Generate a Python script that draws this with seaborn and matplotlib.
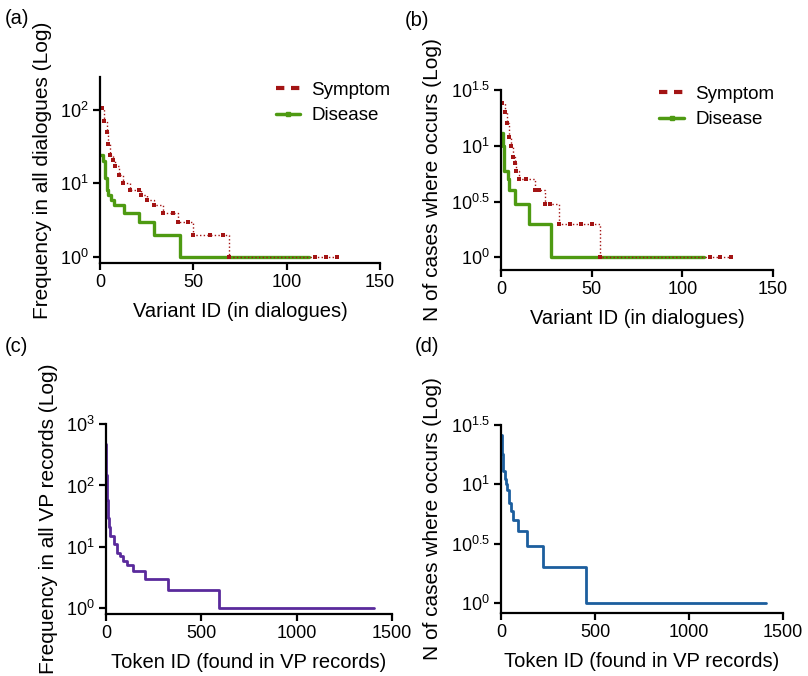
import numpy as np
import pandas as pd
import matplotlib.pyplot as plt
from matplotlib.lines import Line2D
import seaborn as sns

# (a) frequency in all dialogues
a_sym_x = [1, 2, 3.5, 4.5, 5.5, 7, 8, 10, 12.5, 16, 21, 22, 25, 29, 34, 39, 42, 47, 50, 59, 66, 69, 115, 121, 127]
a_sym_y = [105, 70, 50, 34, 24, 21, 17, 13, 10, 8, 8, 7, 6, 5, 4, 4, 3, 3, 2, 2, 2, 1, 1, 1, 1]
a_dis_x = [0, 1.5, 2.5, 3.5, 4.5, 6, 7.5, 13, 21, 29, 43, 112]
a_dis_y = [24, 20, 12, 8, 7, 6, 5, 4, 3, 2, 1, 1]

# (b) number of cases where it occurs
b_sym_x = [0.5, 2, 3.2, 4.3, 5.6, 6.5, 7.5, 8.5, 10, 14, 19, 21, 24, 27, 32, 38, 44, 50, 54.5, 115, 121, 127]
b_sym_y = [24, 20, 16, 12, 10, 8, 7, 6, 5, 5, 4, 4, 3, 3, 2, 2, 2, 2, 1, 1, 1, 1]
b_dis_x = [0, 1, 1.8, 3.7, 4.6, 7.8, 15.2, 27.8, 112]
b_dis_y = [13, 10, 6, 5, 4, 3, 2, 1, 1]

# (c) token frequency in VP records
c_x = [0, 1, 3, 5, 9, 14, 23, 40, 58, 75, 90, 110, 142, 207, 324, 593, 1408]
c_y = [480, 150, 80, 58, 30, 21, 15, 11, 8, 7, 6, 5, 4, 3, 2, 1, 1]

# (d) token: number of cases where it occurs
d_x = [0, 4, 12, 21, 28, 34, 40, 45, 55, 65, 92, 136, 224, 454, 1408]
d_y = [26, 18, 13, 11, 10, 9, 8, 7, 6, 5, 4, 3, 2, 1, 1]

RED = "#A31414"
GREEN = "#4E9A12"
PURPLE = "#5A2A9C"
BLUE = "#1C5E9E"

sns.set_theme(style="ticks")
plt.rcParams["font.family"] = ["Liberation Sans", "DejaVu Sans"]
plt.rcParams["mathtext.fontset"] = "custom"
plt.rcParams["mathtext.rm"] = "Liberation Sans"
plt.rcParams["mathtext.it"] = "Liberation Sans"
plt.rcParams["text.color"] = "black"
plt.rcParams["axes.labelcolor"] = "black"
plt.rcParams["xtick.color"] = "black"
plt.rcParams["ytick.color"] = "black"

fig = plt.figure(figsize=(8.08, 6.76), dpi=100)
W, H = 808, 676


def px_axes(l, t, r, b):
    return fig.add_axes([l / W, 1 - b / H, (r - l) / W, (b - t) / H])


def style(ax, xlim, xticks, ylim, yexp, xlabel, ylabel):
    ax.set_yscale("log")
    ax.set_xlim(*xlim)
    ax.set_ylim(*ylim)
    ax.set_xticks(xticks)
    ax.set_xticklabels([str(t) for t in xticks])
    ax.set_yticks([10 ** e for e in yexp])
    ax.set_yticklabels([f"$10^{{{e:g}}}$" for e in yexp])
    ax.minorticks_off()
    sns.despine(ax=ax)
    for s in ["left", "bottom"]:
        ax.spines[s].set_linewidth(1.6)
        ax.spines[s].set_color("black")
    ax.tick_params(axis="both", length=5, width=1.6, labelsize=13, pad=3)
    ax.set_xlabel(xlabel, fontsize=14.5, labelpad=8)
    ax.set_ylabel(ylabel, fontsize=15, labelpad=6)


def steps(ax, x, y, color, lw, ls="-", marker=None, ms=0):
    df = pd.DataFrame({"x": x, "y": y})
    sns.lineplot(data=df, x="x", y="y", ax=ax, estimator=None, sort=False,
                 drawstyle="steps-post", color=color, lw=lw, linestyle=ls,
                 marker=marker, markersize=ms, markeredgewidth=0)


def legend(ax, anchor):
    handles = [
        Line2D([], [], color=RED, lw=3, linestyle=(0, (2, 1.6))),
        Line2D([], [], color=GREEN, lw=2.5, marker="s", markersize=2.5),
    ]
    ax.legend(handles, ["Symptom", "Disease"], loc="upper left", bbox_to_anchor=anchor,
              frameon=False, fontsize=13.5, handlelength=1.3, handletextpad=0.6,
              labelspacing=0.45, borderaxespad=0)


# (a)
ax = px_axes(100, 77, 380, 263)
steps(ax, a_dis_x, a_dis_y, GREEN, 2.4, marker="s", ms=2)
steps(ax, a_sym_x, a_sym_y, RED, 1.0, ls=":", marker="s", ms=3)
style(ax, (0, 150), [0, 50, 100, 150], (0.82, 282), [0, 1, 2],
      "Variant ID (in dialogues)", "Frequency in all dialogues (Log)")
legend(ax, (0.60, 1.015))

# (b)
ax = px_axes(501, 90, 773, 270)
steps(ax, b_dis_x, b_dis_y, GREEN, 2.4, marker="s", ms=2)
steps(ax, b_sym_x, b_sym_y, RED, 1.0, ls=":", marker="s", ms=3)
style(ax, (0, 150), [0, 50, 100, 150], (0.77, 10 ** 1.5), [0, 0.5, 1, 1.5],
      "Variant ID (in dialogues)", "N of cases where occurs (Log)")
legend(ax, (0.555, 1.065))

# (c)
ax = px_axes(106, 424, 392, 614)
steps(ax, c_x, c_y, PURPLE, 2.0)
style(ax, (0, 1500), [0, 500, 1000, 1500], (0.81, 1000), [0, 1, 2, 3],
      "Token ID (found in VP records)", "Frequency in all VP records (Log)")

# (d)
ax = px_axes(501, 425, 783, 613)
steps(ax, d_x, d_y, BLUE, 2.0)
style(ax, (0, 1500), [0, 500, 1000, 1500], (0.82, 10 ** 1.5), [0, 0.5, 1, 1.5],
      "Token ID (found in VP records)", "N of cases where occurs (Log)")

for lab, x, y in [("(a)", 5, 18), ("(b)", 405, 20), ("(c)", 5, 347), ("(d)", 415, 347)]:
    fig.text(x / W, 1 - y / H, lab, fontsize=14.5, va="center", ha="left")

fig.savefig("out.png", dpi=100)
